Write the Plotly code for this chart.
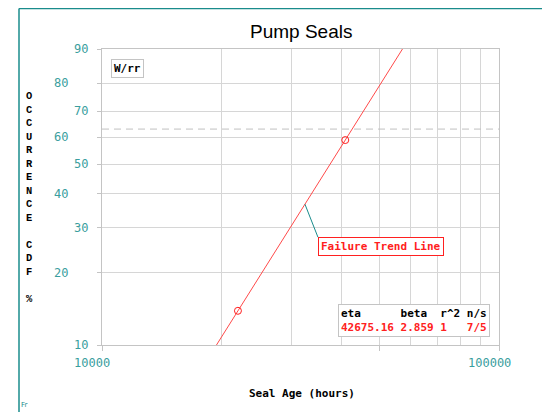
import numpy as np
import plotly.graph_objects as go

# ---- data ----
eta = 42675.16
beta = 2.859
r2 = 1
n_total = 7
n_susp = 5
failure_age = [22000, 41000]          # hours
failure_cdf = [13.97, 59.0]           # percent
cdf_ticks = [10, 20, 30, 40, 50, 60, 70, 80, 90]
cdf_labels_near = [10, 30, 50, 70, 90]
age_grid = [10000, 20000, 30000, 40000, 50000, 60000, 70000, 80000, 90000, 100000]
age_tickmarks = [10000, 50000, 100000]
age_labels = [10000, 100000]
char_life_pct = 63.2
trend_pct = [10, 90]
callout_age = 32450


def wb(p):
    return np.log(-np.log(1 - np.asarray(p, dtype=float) / 100.0))


def age_at(p):
    return eta * np.exp(wb(p) / beta)


# ---- geometry (screen pixels; page body has an 8px margin) ----
OFF = 8
W, H = 550 - OFF, 412 - OFF
PL, PR, PT, PB = 102, 499, 49, 345          # plot box in screen px
L, T = PL - OFF, PT - OFF
R, B = W - (PR - OFF), H - (PB - OFF)
PW, PH = PR - PL, PB - PT


def px(x):
    return (x - PL) / PW


def py(y):
    return (PB - y) / PH


TEAL = "#1a8c8c"
LAB = "#3a9e9e"
GRID = "#d6d6d6"
EDGE = "#c4c4c4"
RED = "#ff2020"
MONO = "DejaVu Sans Mono"

fig = go.Figure()

trend_x = age_at(trend_pct)
fig.add_trace(go.Scatter(
    x=trend_x, y=wb(trend_pct), mode="lines",
    line=dict(color="#ff4a4a", width=1), hoverinfo="skip"))
fig.add_trace(go.Scatter(
    x=failure_age, y=wb(failure_cdf), mode="markers",
    marker=dict(symbol="circle-open", size=7, color=RED, line=dict(width=1)),
    hoverinfo="skip"))

ann = []
# y tick labels (staggered)
for v in cdf_ticks:
    near = v in cdf_labels_near
    ann.append(dict(xref="paper", yref="y", x=0, y=float(wb(v)), text=str(v),
                    xanchor="right", yanchor="middle", xshift=-12 if near else -32,
                    showarrow=False, font=dict(family=MONO, size=12, color=LAB)))
# x tick labels
for v in age_labels:
    ann.append(dict(xref="x", yref="paper", x=np.log10(v), y=0, text=str(v),
                    xanchor="center", yanchor="middle", xshift=-10, yshift=-18,
                    showarrow=False, font=dict(family=MONO, size=12, color=LAB)))
# axis titles
ann.append(dict(xref="paper", yref="paper", x=px(302), y=py(393), text="<b>Seal Age (hours)</b>",
                xanchor="center", yanchor="middle",
                showarrow=False, font=dict(family=MONO, size=11, color="black")))
stack = "<br>".join(list("OCCURRENCE") + ["\u00a0"] + list("CDF") + ["\u00a0", "%"])
ann.append(dict(xref="paper", yref="paper", x=px(29), y=py(197), text="<b>" + stack + "</b>",
                xanchor="center", yanchor="middle", showarrow=False,
                font=dict(family="Liberation Mono", size=10.4, color="black")))
# title
ann.append(dict(xref="paper", yref="paper", x=px(301), y=py(31), text="Pump Seals",
                xanchor="center", yanchor="middle", showarrow=False,
                font=dict(family="Liberation Sans", size=19, color="black")))
# W/rr
ann.append(dict(xref="paper", yref="paper", x=px(127), y=py(69), text="<b>W/rr</b>",
                xanchor="center", yanchor="middle", showarrow=False,
                bordercolor=EDGE, borderwidth=1, borderpad=2, bgcolor="white",
                font=dict(family=MONO, size=11, color="black")))
# Failure trend line callout
ann.append(dict(xref="x", yref="y", x=np.log10(callout_age), y=float(beta * np.log(callout_age / eta)),
                text="<b>Failure Trend Line</b>", showarrow=True, arrowhead=0,
                arrowcolor=TEAL, arrowwidth=1, ax=13, ay=33, xanchor="left", yanchor="top",
                bordercolor=RED, borderwidth=1, borderpad=2, bgcolor="white",
                font=dict(family=MONO, size=11, color=RED)))
# stats box
nb = "\u00a0"
row1 = f"eta{nb*6}beta{nb*2}r^2{nb}n/s"
row2 = f"{eta:.2f}{nb}{beta:.3f}{nb}{r2}{nb*3}{n_total}/{n_susp}"
ann.append(dict(xref="paper", yref="paper", x=px(338), y=py(304),
                text=f"<b><span style='color:black'>{row1}</span><br><span style='color:{RED}'>{row2}</span></b>",
                xanchor="left", yanchor="top", align="left", showarrow=False,
                bordercolor=EDGE, borderwidth=1, borderpad=2, bgcolor="white",
                font=dict(family=MONO, size=11, color="black")))
# Fr
ann.append(dict(xref="paper", yref="paper", x=px(24), y=py(405), text="Fr",
                xanchor="center", yanchor="middle", showarrow=False,
                font=dict(family="DejaVu Sans", size=7, color=TEAL)))

shapes = [
    dict(type="line", xref="paper", yref="y", x0=0, x1=1,
         y0=float(wb(char_life_pct)), y1=float(wb(char_life_pct)),
         line=dict(color="#c0c0c0", width=1, dash="7px,5px")),
    dict(type="line", xref="paper", yref="paper", x0=px(19), x1=px(560), y0=py(8.5), y1=py(8.5),
         line=dict(color=TEAL, width=1.5)),
    dict(type="line", xref="paper", yref="paper", x0=px(19), x1=px(19), y0=py(8.5), y1=py(420),
         line=dict(color=TEAL, width=1.5)),
]

fig.update_layout(
    width=W, height=H, margin=dict(l=L, r=R, t=T, b=B),
    paper_bgcolor="white", plot_bgcolor="white", showlegend=False,
    annotations=ann, shapes=shapes,
    xaxis=dict(type="log", range=[4, 5], tickmode="array", tickvals=age_grid,
               showticklabels=False, ticks="", showgrid=True, gridcolor=GRID, gridwidth=1,
               showline=True, mirror=True, linecolor=EDGE, linewidth=1, zeroline=False,
               minor=dict(tickmode="array", tickvals=age_tickmarks, ticks="outside",
                          ticklen=5, tickcolor=EDGE, showgrid=False)),
    yaxis=dict(range=[float(wb(10)), float(wb(90))], tickmode="array", tickvals=wb(cdf_ticks),
               showticklabels=False, ticks="outside", ticklen=4, tickcolor=EDGE,
               showgrid=True, gridcolor=GRID, gridwidth=1,
               showline=True, mirror=True, linecolor=EDGE, linewidth=1, zeroline=False),
)

fig.write_html("out.html")
